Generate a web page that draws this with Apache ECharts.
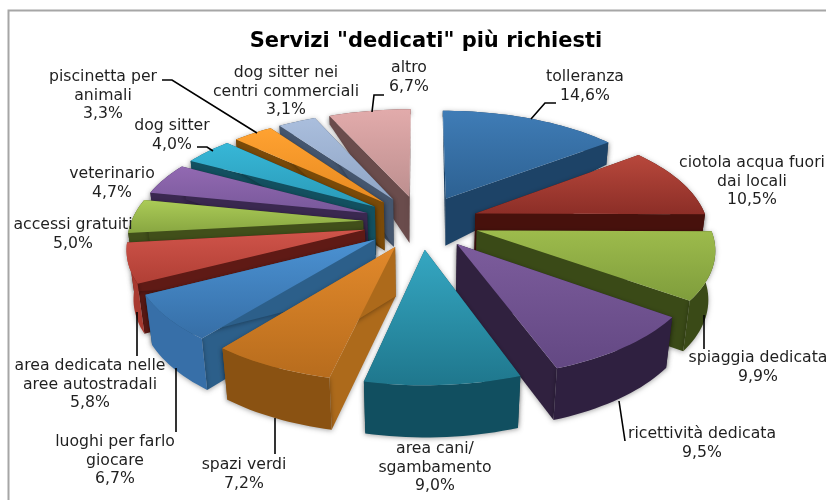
<!DOCTYPE html>
<html>
<head>
<meta charset="utf-8">
<style>html,body{margin:0;padding:0;background:#fff}#c{width:826px;height:500px}</style>
<script src="https://cdn.jsdelivr.net/npm/echarts@6/dist/echarts.min.js"></script>
</head>
<body>
<div id="c"></div>
<script>
const chartTitle = 'Servizi "dedicati" più richiesti';
const categories = ['tolleranza','ciotola acqua fuori\ndai locali','spiaggia dedicata','ricettività dedicata','area cani/\nsgambamento','spazi verdi','luoghi per farlo\ngiocare','area dedicata nelle\naree autostradali','accessi gratuiti','veterinario','dog sitter','piscinetta per\nanimali','dog sitter nei\ncentri commerciali','altro'];
const values = [14.6,10.5,9.9,9.5,9.0,7.2,6.7,5.8,5.0,4.7,4.0,3.3,3.1,6.7];

// slice styles: top-face gradient (light, dark), side wall, outer wall
const topLight = ['#3f7cb6','#b8483c','#9dbb4c','#7c5c9c','#35a7c2','#e2892b','#4b92d3','#d0544a','#abcb57','#9269b2','#37b7d7','#ffa231','#aabedd','#e2abab'];
const topDark  = ['#2d6192','#8c2e27','#7f9d3c','#634883','#1f778d','#b76c1d','#366ea6','#b03f35','#88a641','#78589a','#2a9ab8','#e88a20','#8fa5c5','#bd8f8f'];
const sideWall = ['#1d4367','#47110c','#3a4a17','#30213f','#124c5b','#ad6a1b','#2c5f8a','#5f1a15','#414f1a','#3a2850','#125060','#7a4a08','#45566e','#6a4c4c'];
const outerWall= ['#1d4367','#47110c','#3a4a17','#2f2040','#114f60','#8a5212','#376fa8','#a83a30','#414f1a','#3a2850','#125060','#7a4a08','#45566e','#6a4c4c'];

// text placement: [centre x, first line centre y]
const labelAnchor = [[585,77],[752,163],[758,358],[702,434],[435,449],[244,465],[115,442],[90,366],[73,225],[112,174],[172,126],[103,77],[286,73],[409,68]];
const leaderLines = [
  [[556,103],[545,103],[531,119]], null, [[704,315],[704,349]], [[619,401],[625,441]], null,
  [[275,418],[275,454]], [[176,368],[176,432]], [[137,312],[137,356]], null, null,
  [[197,147],[207,147],[213,151]], [[162,80],[172,80],[257,133]], null, [[384,95],[374,95],[372,112]]
];

// projection of the tilted disc
const CX = 421, CY = 222, R = 232, RY = 107, PERSP = 0.145, EXPLODE = 0.25;
const total = values.reduce((a,b)=>a+b,0);
function project(u, v) {
  const w = 1 / (1 - PERSP * v);
  return [CX + R * u * w, CY + RY * v * w];
}
function drop(p, v) {
  // extrusion height shrinks toward the back of the pie
  let d;
  if (v >= -0.2) d = 48 + 4 * (v + 0.2) / 1.4;
  else d = Math.max(5, 48 + (v + 0.2) * 41);
  return [CX + (p[0] - CX) * (1 - d / 52 * 0.025), p[1] + d];
}
let acc = 0;
const slices = values.map(function (val) {
  const a0 = acc / total * Math.PI * 2;
  acc += val;
  const a1 = acc / total * Math.PI * 2;
  const m = (a0 + a1) / 2;
  const eu = EXPLODE * Math.sin(m), ev = -EXPLODE * Math.cos(m);
  const top = [], bot = [];
  const n = Math.max(4, Math.ceil((a1 - a0) / 0.03));
  for (let k = 0; k <= n; k++) {
    const a = a0 + (a1 - a0) * k / n;
    const u = eu + Math.sin(a), v = ev - Math.cos(a);
    const p = project(u, v);
    top.push(p);
    bot.push(drop(p, v));
  }
  const apex = project(eu, ev);
  return { m, apex, apexBot: drop(apex, ev), top, bot, depth: -Math.cos(m) };
});
const order = slices.map((s, i) => i).sort((a, b) => slices[a].depth - slices[b].depth);

function vGrad(c0, c1) {
  return { type: 'linear', x: 0, y: 0, x2: 0, y2: 1, colorStops: [{ offset: 0, color: c0 }, { offset: 1, color: c1 }] };
}
const shadow = { shadowBlur: 5, shadowColor: 'rgba(0,0,0,0.35)', shadowOffsetY: 1 };

function renderSlice(params, api) {
  const i = params.dataIndex;
  const s = slices[i];
  const base = order.indexOf(i) * 10 + 1;
  const poly = (pts, style, z) => ({ type: 'polygon', z2: base + z, shape: { points: pts }, style: style });
  const first = s.top.length - 1;
  const outer = s.top.concat(s.bot.slice().reverse());
  const backFacing = s.depth < 0;
  const children = [
    poly(outer, Object.assign({ fill: outerWall[i] }, shadow), backFacing ? 0 : 3),
    poly([s.apex, s.top[0], s.bot[0], s.apexBot], Object.assign({ fill: sideWall[i] }, shadow), 1),
    poly([s.apex, s.top[first], s.bot[first], s.apexBot], Object.assign({ fill: sideWall[i] }, shadow), 2),
    poly([s.apex].concat(s.top), { fill: vGrad(topLight[i], topDark[i]) }, 5)
  ];
  const pct = api.value(0).toFixed(1).replace('.', ',');
  children.push({
    type: 'text', z2: 500,
    x: labelAnchor[i][0], y: labelAnchor[i][1] - 9,
    style: { text: categories[i] + '\n' + pct + '%', fill: '#1f1f1f', font: '15.7px "DejaVu Sans"', lineHeight: 18.3, align: 'center', verticalAlign: 'top' }
  });
  if (leaderLines[i]) {
    children.push({ type: 'polyline', z2: 400, shape: { points: leaderLines[i] }, style: { fill: 'none', stroke: '#000', lineWidth: 1.6 } });
  }
  return { type: 'group', children: children };
}

const chart = echarts.init(document.getElementById('c'), null, { renderer: 'canvas' });
chart.setOption({
  animation: false,
  backgroundColor: '#fff',
  title: { text: chartTitle, left: 421, top: 26, textAlign: 'center', textStyle: { fontFamily: 'DejaVu Sans', fontWeight: 'bold', fontSize: 21, color: '#000' } },
  graphic: [{ type: 'rect', shape: { x: 8.5, y: 10.5, width: 900, height: 600 }, style: { fill: 'none', stroke: '#a6a6a6', lineWidth: 2 }, silent: true, z: -1 }],
  series: [{
    type: 'custom',
    coordinateSystem: 'none',
    renderItem: renderSlice,
    data: values.map((v, i) => ({ name: categories[i], value: [v] }))
  }]
});
</script>
</body>
</html>
